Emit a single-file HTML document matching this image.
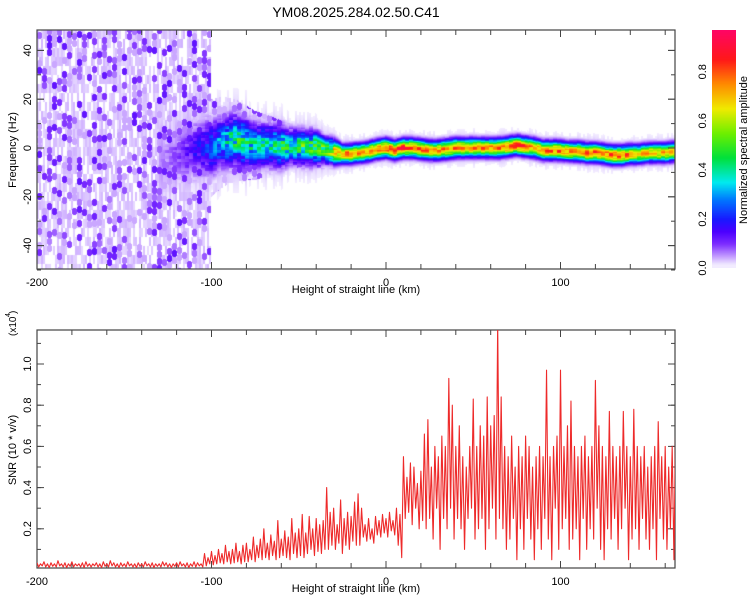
<!DOCTYPE html>
<html><head><meta charset="utf-8">
<style>
html,body{margin:0;padding:0;background:#fff;}
#wrap{position:relative;width:750px;height:600px;overflow:hidden;font-family:"Liberation Sans",sans-serif;}
canvas{position:absolute;}
svg{position:absolute;left:0;top:0;}
text{font-family:"Liberation Sans",sans-serif;font-size:11px;fill:#000;}
</style></head>
<body>
<div id="wrap">
<canvas id="spec" width="638" height="239" style="left:37px;top:30px"></canvas>
<canvas id="cbar" width="24" height="238" style="left:712px;top:30px"></canvas>
<svg id="svg" width="750" height="600"></svg>
</div>
<script>
// ---- data ----
const ridgeKm0 = -130, ridgeStep = 5;
const ridgeFreq = [-5,-4,-3,-2,-1,0,
 0,2,3,3,2,1,1,1,0.5,0.5,0.5,0,0,-1,-1.5,-2.5,-2.5,-2,-1.5,-0.5,0,-1,0,0,-0.5,-1,-1,-0.5,0,0,0,0,0,0,0.5,1,0.5,0,-1,-1,-1,-1.5,-1.5,-2,-2,-2.5,-3,-3,-2.5,-2.5,-2,-2,-2,-1.5];
const ridgeAmp = [0.06,0.08,0.1,0.14,0.18,0.22,
 0.28,0.35,0.45,0.5,0.45,0.45,0.45,0.45,0.5,0.5,0.55,0.55,0.6,0.65,0.75,0.8,0.85,0.8,0.8,0.85,0.9,0.9,0.9,0.85,0.85,0.8,0.8,0.85,0.85,0.8,0.85,0.8,0.8,0.85,0.85,0.9,0.9,0.8,0.8,0.85,0.85,0.8,0.8,0.85,0.85,0.8,0.85,0.85,0.8,0.75,0.75,0.75,0.8,0.8];
const ridgeWidth = [7,7,7,7,7,7,7,6,6,6,6,5,5,5,5,4,4,4,4,3,3,
 2.2,2.2,2.2,2.2,2.2,2.2,2.2,2.2,2.2,2.2,2.2,2.2,2.2,2.2,2.2,2.2,2.2,2.2,2.2,2.2,2.2,2.2,2.2,2.2,2.2,2.2,2.2,2.2,2.2,2.2,2.2,2.2,2.2,2.2,2.2,2.2,2.2,2.2,2.2];
const noiseEndKm = -100;

const snrKm0 = -200, snrStep = 2;
const snrHigh = [0.035,0.03,0.04,0.03,0.035,0.03,0.045,0.03,0.035,0.03,0.04,0.03,0.03,0.035,0.04,0.03,0.03,0.035,0.03,0.04,0.03,0.045,0.035,0.03,0.035,0.03,0.04,0.03,0.03,0.035,0.03,0.04,0.03,0.035,0.03,0.03,0.04,0.035,0.03,0.03,0.035,0.04,0.03,0.035,0.03,0.04,0.035,0.03,
 0.08,0.06,0.09,0.07,0.1,0.08,0.12,0.09,0.1,0.13,0.09,0.12,
 0.13,0.1,0.16,0.12,0.15,0.2,0.13,0.17,0.14,0.24,0.15,0.19,0.16,0.25,0.18,
 0.2,0.27,0.18,0.26,0.2,0.25,0.22,0.24,
 0.4,0.28,0.3,0.22,0.34,0.25,0.28,0.26,0.33,
 0.37,0.3,0.22,0.25,0.2,0.26,0.24,0.27,0.25,0.28,0.24,0.3,0.27,
 0.55,0.45,0.52,0.5,0.42,0.48,
 0.66,0.73,0.5,0.6,0.55,0.65,0.6,0.93,0.8,0.6,0.7,0.55,0.5,0.6,0.83,0.6,0.7,0.65,0.84,0.7,0.75,1.2,0.84,0.6,0.55,0.65,0.5,0.6,0.55,0.65,0.6,0.5,0.55,0.6,0.55,0.97,0.55,0.6,0.65,0.97,0.6,0.7,0.82,0.6,0.55,0.6,0.65,0.55,0.6,0.92,0.7,0.6,0.55,0.77,0.6,0.55,0.6,0.77,0.6,0.55,0.78,0.6,0.55,0.6,0.5,0.55,0.6,0.72,0.55,0.6,0.5,0.6,0.7];
const snrLow = [0.015,0.02,0.015,0.012,0.018,0.015,0.02,0.015,0.012,0.018,0.015,0.02,0.015,0.012,0.018,0.015,0.02,0.015,0.012,0.018,0.015,0.02,0.015,0.012,0.018,0.015,0.02,0.015,0.012,0.018,0.015,0.02,0.015,0.012,0.018,0.015,0.02,0.015,0.012,0.018,0.015,0.02,0.015,0.012,0.018,0.015,0.02,0.015,
 0.02,0.03,0.025,0.03,0.035,0.03,0.04,0.03,0.035,0.04,0.03,0.04,
 0.04,0.05,0.04,0.06,0.05,0.06,0.05,0.07,0.05,0.06,0.07,0.06,0.05,0.08,0.06,
 0.07,0.06,0.08,0.1,0.07,0.09,0.08,0.1,
 0.1,0.12,0.1,0.13,0.08,0.12,0.1,0.14,0.12,
 0.12,0.16,0.14,0.15,0.13,0.17,0.16,0.18,0.16,0.19,0.17,0.12,0.06,
 0.25,0.28,0.22,0.3,0.2,0.24,
 0.2,0.25,0.15,0.3,0.1,0.25,0.2,0.3,0.15,0.25,0.2,0.1,0.25,0.3,0.15,0.2,0.25,0.1,0.2,0.3,0.15,0.25,0.2,0.1,0.15,0.25,0.05,0.2,0.1,0.25,0.15,0.05,0.2,0.1,0.25,0.15,0.05,0.3,0.1,0.2,0.25,0.1,0.15,0.2,0.05,0.25,0.1,0.2,0.15,0.3,0.1,0.05,0.2,0.15,0.25,0.1,0.2,0.3,0.05,0.15,0.2,0.1,0.25,0.15,0.1,0.2,0.05,0.25,0.15,0.1,0.2,0.05,0.3];

const xTicks = [-200,-100,0,100];
const freqTicks = [40,20,0,-20,-40];
const snrTicks = [0.2,0.4,0.6,0.8,1.0];
const cbarTicks = [0.0,0.2,0.4,0.6,0.8];

// ---- scales ----
const X0=37, X1=675, KM0=-200, KMPX=1.745;
const xs = km => X0 + (km-KM0)*KMPX;
const T0=30, T1=269, FZ=148, FPX=2.44;
const ys = f => FZ - f*FPX;
const B0=330, B1=568, SZ=570, SPX=206;
const ysn = v => SZ - v*SPX;
const CB0=30, CB1=268, CBMAX=0.97;
const ycb = v => CB1 - v/CBMAX*(CB1-CB0);

const stops=[[0,255,255,255],[0.02,236,226,255],[0.05,195,155,255],[0.1,125,45,255],[0.15,75,0,255],[0.2,25,25,255],[0.28,0,120,255],[0.35,0,235,240],[0.45,0,225,60],[0.55,110,240,0],[0.65,240,235,0],[0.75,255,140,0],[0.85,255,25,25],[1.0,255,0,120]];
function cmap(v){if(v<0.012)return [255,255,255];v=Math.max(0,Math.min(1,v));for(let i=1;i<stops.length;i++){if(v<=stops[i][0]){const a=stops[i-1],b=stops[i],t=(v-a[0])/(b[0]-a[0]);return [a[1]+(b[1]-a[1])*t,a[2]+(b[2]-a[2])*t,a[3]+(b[3]-a[3])*t];}}return stops[stops.length-1].slice(1);}
function hsh(a,b){const s=Math.sin(a*127.1+b*311.7)*43758.5453;return s-Math.floor(s);}
function interp(arr,km){let p=(km-ridgeKm0)/ridgeStep;if(p<0)p=0;if(p>arr.length-1)p=arr.length-1;const i=Math.floor(p),t=p-i;const j=Math.min(i+1,arr.length-1);return arr[i]+(arr[j]-arr[i])*t;}

// speckle texture (dots on light lavender streaks)
function speckle(px,py){
 const cx=Math.floor(px/5);
 const off=Math.floor(hsh(cx,99)*7);
 const cy=Math.floor((py+off)/7);
 const h=hsh(cx,cy);
 const dx=((px%5)-2)/2.6, dy=(((py+off)%7)-3)/3.4;
 const r2=dx*dx+dy*dy;
 if(h>0.74 && r2<1) return 0.06+0.07*hsh(cx+3,cy+5);
 if(h>0.6 && r2<1) return 0.045;
 const s=hsh(Math.floor(px/2)+11,Math.floor(py/9));
 return s<0.35?0:(0.015+0.025*s);
}

// ---- spectrogram ----
(function(){
 const c=document.getElementById('spec'),ctx=c.getContext('2d');
 const W=c.width,H=c.height,img=ctx.createImageData(W,H);
 for(let py=0;py<H;py++){for(let px=0;px<W;px++){
  const km=KM0+(px+0.5)/KMPX, f=(FZ-(T0+py+0.5))/FPX;
  let v=0;
  const fc=interp(ridgeFreq,km),am=interp(ridgeAmp,km),w=interp(ridgeWidth,km);
  const sp=speckle(px,py);
  if(km<noiseEndKm){v=sp;}
  else if(km<-40){const lim=14*(1-(km+100)/60)+6;if(Math.abs(f-fc)<lim)v=sp*0.9;}
  if(km>=ridgeKm0){
   const d=(f-fc)/w;
   const t=hsh(Math.floor(px/4)+7,Math.floor(py/3)+3);
   const mod = km<-30 ? 0.55+0.55*t : 0.8+0.25*t;
   const r=am*Math.exp(-d*d/2)*mod;
   const halo=0.06*Math.exp(-d*d/8)*(hsh(Math.floor(px/2),5)*0.9+0.2);
   v=Math.max(v,r,halo);
  }
  const col=cmap(v),k=(py*W+px)*4;
  img.data[k]=col[0];img.data[k+1]=col[1];img.data[k+2]=col[2];img.data[k+3]=255;
 }}
 ctx.putImageData(img,0,0);
 const cb=document.getElementById('cbar').getContext('2d');
 for(let y=0;y<238;y++){const v=(238-y)/238*CBMAX;const col=cmap(Math.max(v,0.013));cb.fillStyle=`rgb(${col[0]|0},${col[1]|0},${col[2]|0})`;cb.fillRect(0,y,24,1);}
})();

// ---- svg ----
const NS='http://www.w3.org/2000/svg',svg=document.getElementById('svg');
function el(tag,attrs,parent){const e=document.createElementNS(NS,tag);for(const k in attrs)e.setAttribute(k,attrs[k]);(parent||svg).appendChild(e);return e;}
function txt(s,x,y,rot,anchor,size){const t=el('text',{x:x,y:y,'text-anchor':anchor||'middle'});if(rot)t.setAttribute('transform',`rotate(-90 ${x} ${y})`);if(size)t.style.fontSize=size+'px';t.textContent=s;return t;}
let t;
t=txt('YM08.2025.284.02.50.C41',356,17,0,'middle',14);



function frame(top,bot,name){
 const r=el('rect',{x:X0,y:top,width:X1-X0,height:bot-top,fill:'none',stroke:'#444','stroke-width':1.2});
 
 
 for(let km=-200;km<=165;km+=20){const x=xs(km),L=(km%100===0)?7:5;
  el('line',{x1:x,y1:bot,x2:x,y2:bot-L,stroke:'#444'});el('line',{x1:x,y1:top,x2:x,y2:top+L,stroke:'#444'});}
}
frame(T0,T1,'spectrogram-frame');
frame(B0,B1,'snr-frame');
xTicks.forEach(k=>{
 let a=txt(String(k),xs(k),286);
 
 
 let b=txt(String(k),xs(k),585);
 
 
});
t=txt('Height of straight line (km)',356,293);


t=txt('Height of straight line (km)',356,592);


for(let f=-50;f<=45;f+=10){const y=ys(f);const L=(f%20===0)?7:4;el('line',{x1:X0,y1:y,x2:X0+L,y2:y,stroke:'#444'});el('line',{x1:X1,y1:y,x2:X1-L,y2:y,stroke:'#444'});}
freqTicks.forEach(f=>{const y=ys(f);el('line',{x1:X0,y1:y,x2:X0+7,y2:y,stroke:'#444'});el('line',{x1:X1,y1:y,x2:X1-7,y2:y,stroke:'#444'});
 const a=txt(String(f),31,y,1);
 
 
});
t=txt('Frequency (Hz)',16,150,1);


for(let v=0.1;v<1.15;v+=0.1){const y=ysn(v);el('line',{x1:X0,y1:y,x2:X0+4,y2:y,stroke:'#444'});el('line',{x1:X1,y1:y,x2:X1-4,y2:y,stroke:'#444'});}
snrTicks.forEach(v=>{const y=ysn(v);el('line',{x1:X0,y1:y,x2:X0+7,y2:y,stroke:'#444'});el('line',{x1:X1,y1:y,x2:X1-7,y2:y,stroke:'#444'});
 const a=txt(v.toFixed(1),31,y,1);
 
 
});
t=txt('SNR (10 * v/v)',16,450,1);


t=txt('(x10',16,336,1,'start',10);


t=txt('4',10,317,1,'start',7);


t=txt(')',16,314,1,'start',10);
cbarTicks.forEach(v=>{const a=txt(v.toFixed(1),706,ycb(v),1);
 
 
});
t=txt('Normalized spectral amplitude',747,150,1);



el('clipPath',{id:'clipB'}).appendChild((()=>{const r=document.createElementNS(NS,'rect');r.setAttribute('x',X0);r.setAttribute('y',B0);r.setAttribute('width',X1-X0);r.setAttribute('height',B1-B0);return r;})());
let d='';
for(let i=0;i<snrHigh.length;i++){
 const k=snrKm0+i*snrStep;
 d+=(i?'L':'M')+xs(k).toFixed(2)+' '+ysn(snrHigh[i]).toFixed(2);
 d+='L'+xs(k+snrStep/2).toFixed(2)+' '+ysn(snrLow[i]).toFixed(2);
}
const p=el('path',{d:d,fill:'none',stroke:'#ee2a2a','stroke-width':1.1,'clip-path':'url(#clipB)','stroke-linejoin':'round'});


</script>
</body></html>
